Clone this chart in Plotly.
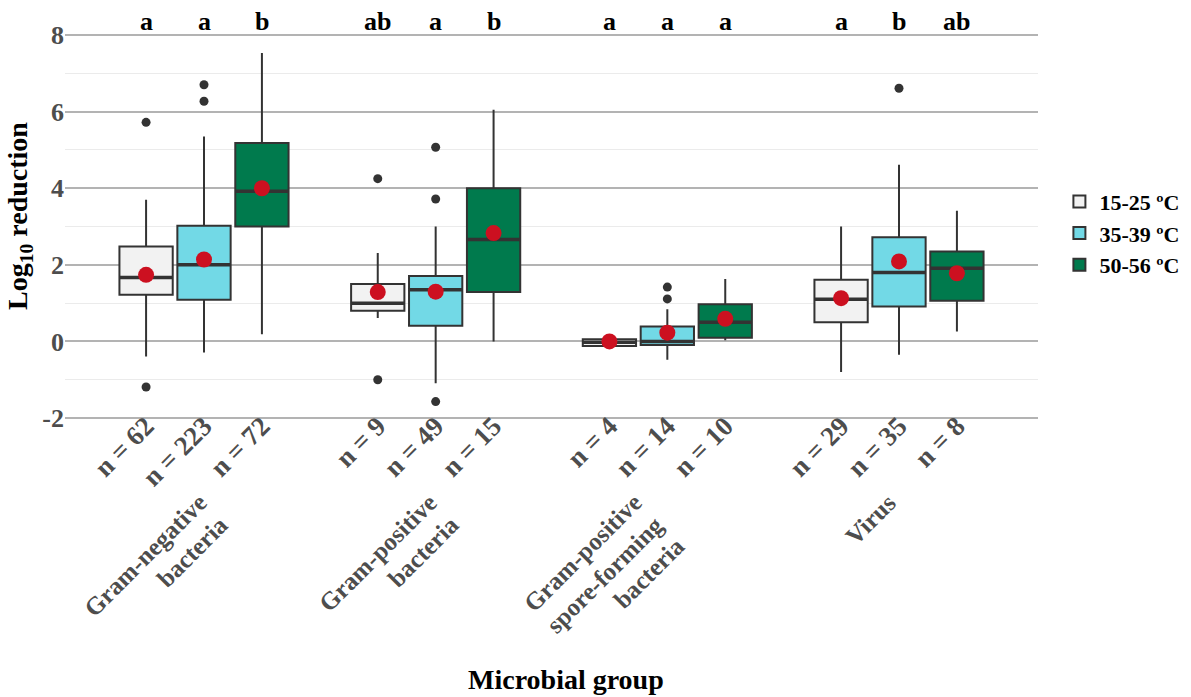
import plotly.graph_objects as go

# ---------------- data ----------------
groups = [["Gram-negative", "bacteria"], ["Gram-positive", "bacteria"],
          ["Gram-positive", "spore-forming", "bacteria"], ["Virus"]]
temps = ["15-25 \u00baC", "35-39 \u00baC", "50-56 \u00baC"]

n_15 = [62, 9, 4, 29]
n_35 = [223, 49, 14, 35]
n_50 = [72, 15, 10, 8]

q1_15 = [1.22, 0.80, -0.12, 0.50]
med_15 = [1.67, 1.00, -0.02, 1.10]
q3_15 = [2.48, 1.50, 0.06, 1.61]
lo_15 = [-0.39, 0.61, -0.12, -0.80]
hi_15 = [3.70, 2.31, 0.06, 3.00]
mean_15 = [1.74, 1.29, 0.00, 1.13]
out_15 = [[5.72, -1.19], [4.25, -1.00], [], []]

q1_35 = [1.09, 0.41, -0.09, 0.91]
med_35 = [2.00, 1.35, 0.00, 1.80]
q3_35 = [3.02, 1.71, 0.39, 2.72]
lo_35 = [-0.29, -1.09, -0.48, -0.35]
hi_35 = [5.35, 3.00, 0.84, 4.61]
mean_35 = [2.14, 1.30, 0.23, 2.09]
out_35 = [[6.70, 6.27], [5.07, 3.72, -1.57], [1.42, 1.11], [6.61]]

q1_50 = [3.00, 1.29, 0.10, 1.06]
med_50 = [3.92, 2.66, 0.50, 1.91]
q3_50 = [5.18, 4.00, 0.97, 2.35]
lo_50 = [0.19, 0.00, 0.03, 0.26]
hi_50 = [7.53, 6.05, 1.63, 3.41]
mean_50 = [4.00, 2.83, 0.59, 1.78]
out_50 = [[], [], [], []]

letters_15 = ["a", "ab", "a", "a"]
letters_35 = ["a", "a", "a", "b"]
letters_50 = ["b", "b", "a", "ab"]

y_ticks = [-2, 0, 2, 4, 6, 8]
y_minor = [-1, 1, 3, 5, 7]

# ---------------- styling / layout constants ----------------
fills = ["#f2f2f2", "#72d9e6", "#007a4d"]
dodge = [-0.25, 0.0, 0.25]
box_w = 0.23
line_col = "#333333"
serif = "Liberation Serif"
# group label anchor (right/top) offset from group centre (category units)
glabel_dx = [0.045, 0.041, -0.075, 0.020]
glabel_y = -0.162
line_step = 21.5  # px diagonal step between label lines

series = [
    (q1_15, med_15, q3_15, lo_15, hi_15, mean_15, out_15, n_15, letters_15),
    (q1_35, med_35, q3_35, lo_35, hi_35, mean_35, out_35, n_35, letters_35),
    (q1_50, med_50, q3_50, lo_50, hi_50, mean_50, out_50, n_50, letters_50),
]

fig = go.Figure()
tickvals, ticktext = [], []
ann = []
for k, (q1, med, q3, lo, hi, mn, outs, ns, lets) in enumerate(series):
    xs = [g + dodge[k] for g in range(len(groups))]
    fig.add_trace(go.Box(
        x=xs, q1=q1, median=med, q3=q3, lowerfence=lo, upperfence=hi,
        name=temps[k], width=box_w, whiskerwidth=0, boxpoints=False,
        fillcolor=fills[k], line=dict(color=line_col, width=2),
        hoverinfo="skip",
    ))
    # thick median lines
    mx, my = [], []
    for x, m in zip(xs, med):
        mx += [x - box_w / 2, x + box_w / 2, None]
        my += [m, m, None]
    fig.add_trace(go.Scatter(x=mx, y=my, mode="lines", showlegend=False,
                             line=dict(color=line_col, width=3.5), hoverinfo="skip"))
    # outliers
    ox, oy = [], []
    for x, vals in zip(xs, outs):
        for v in vals:
            ox.append(x)
            oy.append(v)
    if ox:
        fig.add_trace(go.Scatter(x=ox, y=oy, mode="markers", showlegend=False,
                                 marker=dict(color=line_col, size=9), hoverinfo="skip"))
    # means
    fig.add_trace(go.Scatter(x=xs, y=mn, mode="markers", showlegend=False,
                             marker=dict(color="#cc1020", size=16), hoverinfo="skip"))
    for x, n, l in zip(xs, ns, lets):
        tickvals.append(x)
        ticktext.append(f"n = {n}")
        ann.append(dict(x=x, y=8.35, xref="x", yref="y", text=l, showarrow=False,
                        font=dict(family=serif, size=26, color="black", weight="bold"),
                        xanchor="center", yanchor="middle"))

for g, lines in enumerate(groups):
    for i, line in enumerate(lines):
        ann.append(dict(x=g + glabel_dx[g], y=glabel_y, xref="x", yref="paper",
                        text=line, showarrow=False, textangle=-45,
                        xanchor="right", yanchor="top",
                        xshift=i * line_step, yshift=-i * line_step,
                        font=dict(family=serif, size=25, color="#4d4d4d", weight="bold")))

ann.append(dict(x=0.515, y=-0.637, xref="paper", yref="paper", text="Microbial group",
                showarrow=False, xanchor="center", yanchor="middle",
                font=dict(family=serif, size=28, color="black", weight="bold")))

fig.update_layout(
    width=1191, height=697,
    margin=dict(l=65, r=153, t=12, b=277, autoexpand=False),
    paper_bgcolor="white", plot_bgcolor="white",
    boxmode="overlay",
    showlegend=True,
    legend=dict(x=1.022, y=0.458, xanchor="left", yanchor="middle",
                font=dict(family=serif, size=22, color="black", weight="bold"),
                bgcolor="rgba(0,0,0,0)"),
    annotations=ann,
)
fig.update_xaxes(range=[-0.6, 3.6], tickvals=tickvals, ticktext=ticktext, tickangle=-45,
                 ticklabelstandoff=-16,
                 showgrid=False, zeroline=False, showline=False, ticks="",
                 tickfont=dict(family=serif, size=27, color="#4d4d4d", weight="bold"))
fig.update_yaxes(range=[-2.05, 8.6], tickvals=y_ticks, ticktext=[str(v) for v in y_ticks],
                 showgrid=True, gridcolor="#b3b3b3", gridwidth=2,
                 minor=dict(tickvals=y_minor, showgrid=True,
                            gridcolor="#ebebeb", gridwidth=1),
                 zeroline=False, showline=False, ticks="",
                 tickfont=dict(family=serif, size=26, color="#4d4d4d", weight="bold"),
                 title=dict(text="Log<sub>10</sub> reduction", standoff=6,
                            font=dict(family=serif, size=28, color="black", weight="bold")))

fig.write_html("out.html")
